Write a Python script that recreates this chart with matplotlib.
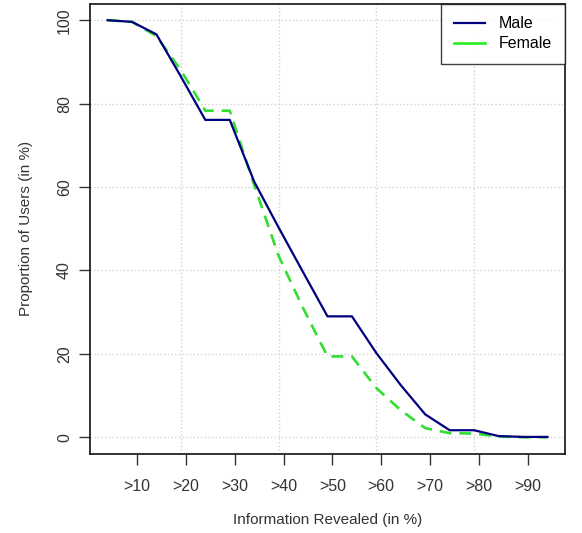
import matplotlib
matplotlib.use('Agg')
import matplotlib.pyplot as plt

plt.rcParams['font.family'] = ['Liberation Sans', 'DejaVu Sans']

# informacao revelada (posicoes dos pontos) e proporcao de usuarios
info_revealed = [4, 9, 14, 19, 24, 29, 34, 39, 44, 49, 54, 59, 64, 69, 74, 79, 84, 89, 94]
male = [100, 99.6, 96.6, 86.5, 76.1, 76.1, 61.3, 50.3, 39.6, 29.0, 29.0, 20.2, 12.5, 5.5,
        1.7, 1.7, 0.3, 0.1, 0.1]
female = [100, 99.6, 96.2, 88.0, 78.3, 78.3, 60.5, 43.5, 31.0, 19.4, 19.4, 11.8, 6.5, 2.2,
          1.0, 0.9, 0.2, 0.0, 0.0]

tick_pos = [10, 20, 30, 40, 50, 60, 70, 80, 90]
tick_labels = [">10", ">20", ">30", ">40", ">50", ">60", ">70", ">80", ">90"]
grid_x = [19, 39, 59, 79]
y_ticks = [0, 20, 40, 60, 80, 100]

fig = plt.figure(figsize=(5.82, 5.33), dpi=100)
ax = fig.add_axes([0.1546, 0.1482, 0.8162, 0.8452])

# grade pontilhada estilo R
for gx in grid_x:
    ax.axvline(gx, color='#d3d3d3', linestyle=':', linewidth=1, zorder=0)
for gy in y_ticks:
    ax.axhline(gy, color='#d3d3d3', linestyle=':', linewidth=1, zorder=0)

ax.plot(info_revealed, male, color='#000080', linewidth=1.6, label='Male', zorder=3)
ax.plot(info_revealed, female, color='#33dd33', linewidth=1.9, linestyle=(0, (4.5, 3)),
        zorder=2)
# legenda com linhas solidas
ax.plot([], [], color='#22ee22', linewidth=1.9, label='Female')

ax.set_xlim(0.4, 97.6)
ax.set_ylim(-4, 104)
ax.set_xticks(tick_pos)
ax.set_xticklabels(tick_labels)
ax.set_yticks(y_ticks)
ax.set_yticklabels([str(v) for v in y_ticks], rotation=90, va='center')

ax.tick_params(axis='x', length=8, width=1, pad=10, labelsize=11.5, colors='#333333')
ax.tick_params(axis='y', length=8, width=1, pad=5, labelsize=11.5, colors='#333333')
for sp in ax.spines.values():
    sp.set_linewidth(1.2)
    sp.set_color('#111111')

ax.set_xlabel("Information Revealed (in %)", fontsize=11, color='#333333', labelpad=14)
ax.set_ylabel("Proportion of Users (in %)", fontsize=11, color='#333333', labelpad=17)

handles, labels = ax.get_legend_handles_labels()
leg = ax.legend(handles, labels, loc='upper right', fontsize=11.5, frameon=True,
                fancybox=False, borderaxespad=0, handlelength=1.9, borderpad=0.8,
                labelspacing=0.32, handletextpad=0.9)
leg.get_frame().set_edgecolor('#111111')
leg.get_frame().set_linewidth(1.0)

fig.savefig('out.png', dpi=100)
